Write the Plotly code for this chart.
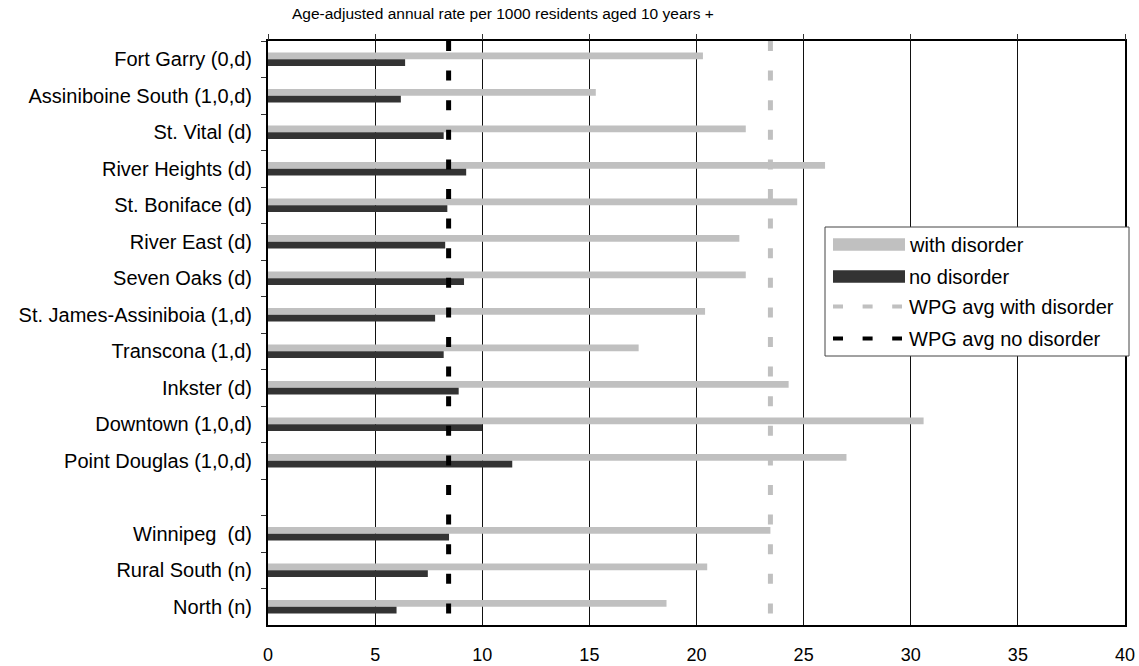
import plotly.graph_objects as go

# ---- data ----
areas = ["Fort Garry (0,d)", "Assiniboine South (1,0,d)", "St. Vital (d)", "River Heights (d)",
         "St. Boniface (d)", "River East (d)", "Seven Oaks (d)", "St. James-Assiniboia (1,d)",
         "Transcona (1,d)", "Inkster (d)", "Downtown (1,0,d)", "Point Douglas (1,0,d)",
         " ", "Winnipeg\u00a0 (d)", "Rural South (n)", "North (n)"]
with_disorder = [20.3, 15.3, 22.3, 26.0, 24.7, 22.0, 22.3, 20.4, 17.3, 24.3, 30.6, 27.0,
                 None, 23.45, 20.5, 18.6]
no_disorder = [6.4, 6.2, 8.2, 9.25, 8.37, 8.27, 9.15, 7.8, 8.2, 8.9, 10.0, 11.4,
               None, 8.45, 7.46, 6.0]
wpg_avg_with = 23.45
wpg_avg_no = 8.43
x_ticks = [0, 5, 10, 15, 20, 25, 30, 35, 40]
subtitle = "Age-adjusted annual rate per 1000 residents aged 10 years +"
names = ["with disorder", "no disorder", "WPG avg with disorder", "WPG avg no disorder"]

GRAY = "#C0C0C0"
DARK = "#333333"
FONT = "Liberation Sans, Arial, sans-serif"
DASH = "10px,19.6px"

fig = go.Figure()
fig.add_trace(go.Bar(y=areas, x=with_disorder, orientation="h", name=names[0],
                     marker=dict(color=GRAY, line=dict(width=0))))
fig.add_trace(go.Bar(y=areas, x=no_disorder, orientation="h", name=names[1],
                     marker=dict(color=DARK, line=dict(width=0))))
fig.add_trace(go.Scatter(x=[wpg_avg_with, wpg_avg_with], y=[1, 0], xaxis="x2", yaxis="y2",
                         mode="lines", name=names[2],
                         line=dict(color=GRAY, width=5, dash=DASH)))
fig.add_trace(go.Scatter(x=[wpg_avg_no, wpg_avg_no], y=[1, 0], xaxis="x2", yaxis="y2",
                         mode="lines", name=names[3],
                         line=dict(color="#000000", width=5, dash=DASH)))

W, H = 1139, 666
L, R, T, B = 268, 14, 41, 41
pw, ph = W - L - R, H - T - B


def px2x(px):
    return (px - L) / pw


def py2y(py):
    return (H - B - py) / ph


fig.update_layout(
    width=W, height=H,
    margin=dict(l=L, r=R, t=T, b=B, autoexpand=False),
    paper_bgcolor="white", plot_bgcolor="white",
    barmode="group", bargap=0.633, bargroupgap=0,
    showlegend=False,
    font=dict(family=FONT, color="black"),
    xaxis=dict(range=[0, 40], tickvals=x_ticks, showgrid=True, gridcolor="#111111", gridwidth=1,
               zeroline=False, showline=True, mirror=True, linecolor="black", linewidth=2,
               ticks="", tickfont=dict(size=18, family=FONT, color="black"),
               ticklabelstandoff=12, automargin=False),
    xaxis2=dict(range=[0, 40], tickvals=x_ticks, overlaying="x", side="top", showgrid=False,
                showticklabels=False, ticks="outside", ticklen=6, tickcolor="#333333",
                zeroline=False, showline=False, automargin=False, fixedrange=True),
    yaxis=dict(type="category", categoryorder="array", categoryarray=areas, autorange="reversed",
               showgrid=False, showline=True, mirror=True, linecolor="black", linewidth=2,
               ticks="outside", tickson="boundaries", ticklen=5, tickcolor="#333333",
               tickfont=dict(size=20, family=FONT, color="black"), ticklabelstandoff=10,
               automargin=False),
    yaxis2=dict(range=[0, 1], overlaying="y", visible=False, fixedrange=True, automargin=False),
)

fig.add_annotation(text=subtitle, xref="paper", yref="paper", x=px2x(503), y=py2y(14),
                   xanchor="center", yanchor="middle", showarrow=False,
                   font=dict(size=15.5, family=FONT, color="black"))

# ---- legend box (drawn from the series names/styles) ----
shapes = []
shapes.append(dict(type="rect", xref="paper", yref="paper", x0=px2x(825), x1=px2x(1129),
                   y0=py2y(356), y1=py2y(227), fillcolor="white",
                   line=dict(color="#444444", width=1), layer="above"))
row_y = [244.5, 276.5, 306.5, 338.5]
sw0, sw1 = 833, 905
styles = [("bar", GRAY), ("bar", DARK), ("line", GRAY), ("line", "#000000")]
for (kind, col), ry, nm in zip(styles, row_y, names):
    if kind == "bar":
        shapes.append(dict(type="rect", xref="paper", yref="paper", x0=px2x(sw0), x1=px2x(sw1),
                           y0=py2y(ry + 6.2), y1=py2y(ry - 6.2), fillcolor=col,
                           line=dict(width=0), layer="above"))
    else:
        shapes.append(dict(type="line", xref="paper", yref="paper", x0=px2x(sw0), x1=px2x(sw1 - 3),
                           y0=py2y(ry), y1=py2y(ry), line=dict(color=col, width=4, dash=DASH),
                           layer="above"))
    fig.add_annotation(text=nm, xref="paper", yref="paper", x=px2x(907), y=py2y(ry),
                       xanchor="left", yanchor="middle", showarrow=False,
                       font=dict(size=20, family=FONT, color="black"))
fig.update_layout(shapes=shapes)

fig.write_html("out.html", config={"displayModeBar": False},
               post_script="document.body.style.margin='0';document.body.style.overflow='hidden';")
